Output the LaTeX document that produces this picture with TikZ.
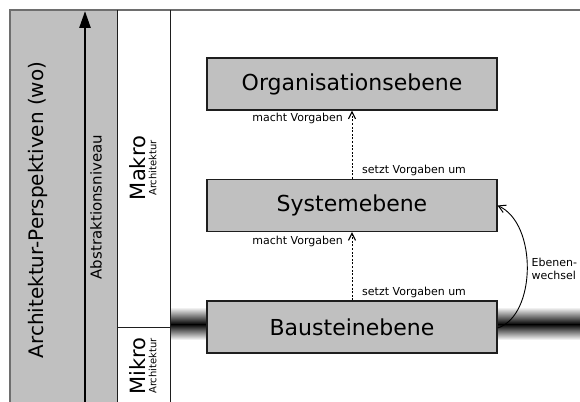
\documentclass[tikz,border=0pt]{standalone}
\usepackage{fontspec}
\setmainfont{DejaVu Sans}
\usetikzlibrary{arrows.meta}

\definecolor{panelgray}{HTML}{C0C0C0}
\definecolor{framegray}{HTML}{6E6E6E}
\definecolor{edgedark}{HTML}{1E1E1E}

\tikzset{
  ebene/.style={draw=edgedark, line width=1.1pt, fill=panelgray,
    minimum width=290pt, minimum height=52pt, inner sep=0pt,
    font=\fontsize{22}{26}\selectfont},
  lbl/.style={font=\fontsize{11}{13}\selectfont, inner sep=0pt},
  vorgabe/.style={dashed, dash pattern=on 2pt off 1.6pt, line width=0.8pt,
    -{Straight Barb[length=7pt,width=7pt,line width=1.2pt]}},
  wechsel/.style={line width=0.9pt,
    -{Straight Barb[length=7pt,width=8pt,line width=1pt]}},
  sidelabel/.style={rotate=90, align=center, inner sep=0pt},
  divider/.style={draw=edgedark, line width=1pt}
}

\begin{document}
\begin{tikzpicture}[x=1pt,y=-1pt]
  \useasboundingbox (0,0) rectangle (580,401);

  % shaded boundary between micro and macro level
  \shade[top color=white, bottom color=black] (170,307) rectangle (580,324.5);
  \shade[top color=black, bottom color=white] (170,324) rectangle (580,340);

  % left panel: perspectives
  \fill[panelgray] (10,10) rectangle (117,402);
  \draw[framegray, line width=1.2pt] (10,402) -- (10,10) -- (580,10);
  \draw[divider] (117,10) -- (117,402);
  \draw[divider] (170,10) -- (170,402);
  \draw[divider] (117,327) -- (170,327);

  \node[sidelabel, font=\fontsize{20}{24}\selectfont] (persp) at (38,210)
    {Architektur-Perspektiven (wo)};

  \coordinate (abot) at (85,402);
  \coordinate (atop) at (85,11);
  \draw[line width=2.6pt, -{Triangle[length=17pt,width=11pt]}] (abot) -- (atop);
  \node[sidelabel, font=\fontsize{15}{18}\selectfont] (abstr) at (96,207)
    {Abstraktionsniveau};

  \node[sidelabel] (makro) at (143,168)
    {{\fontsize{21}{22}\selectfont Makro}\\[-1pt]{\fontsize{10}{11}\selectfont Architektur}};
  \node[sidelabel] (mikro) at (143,366)
    {{\fontsize{21}{22}\selectfont Mikro}\\[-1pt]{\fontsize{10}{11}\selectfont Architektur}};

  % levels
  \node[ebene] (org)  at (352,84)    {Organisationsebene};
  \node[ebene] (sys)  at (352,205.5) {Systemebene};
  \node[ebene] (baus) at (352,327)   {Bausteinebene};

  % dependencies between levels
  \draw[vorgabe] (sys.north) -- (org.south);
  \draw[vorgabe] (baus.north) -- (sys.south);

  \node[lbl, anchor=east] (mv1) at ([xshift=-9pt,yshift=-8pt]org.south) {macht Vorgaben};
  \node[lbl, anchor=west] (su1) at ([xshift=10pt,yshift=8pt]sys.north) {setzt Vorgaben um};
  \node[lbl, anchor=east] (mv2) at ([xshift=-9pt,yshift=-9pt]sys.south) {macht Vorgaben};
  \node[lbl, anchor=west] (su2) at ([xshift=10pt,yshift=8pt]baus.north) {setzt Vorgaben um};

  % change of level
  \draw[wechsel] ([yshift=-1pt]baus.east) .. controls (536,316) and (538,224) .. (sys.east)
    node[lbl, pos=0.5, anchor=west, align=left, xshift=4pt] (ew) {Ebenen-\\wechsel};
\end{tikzpicture}
\end{document}
